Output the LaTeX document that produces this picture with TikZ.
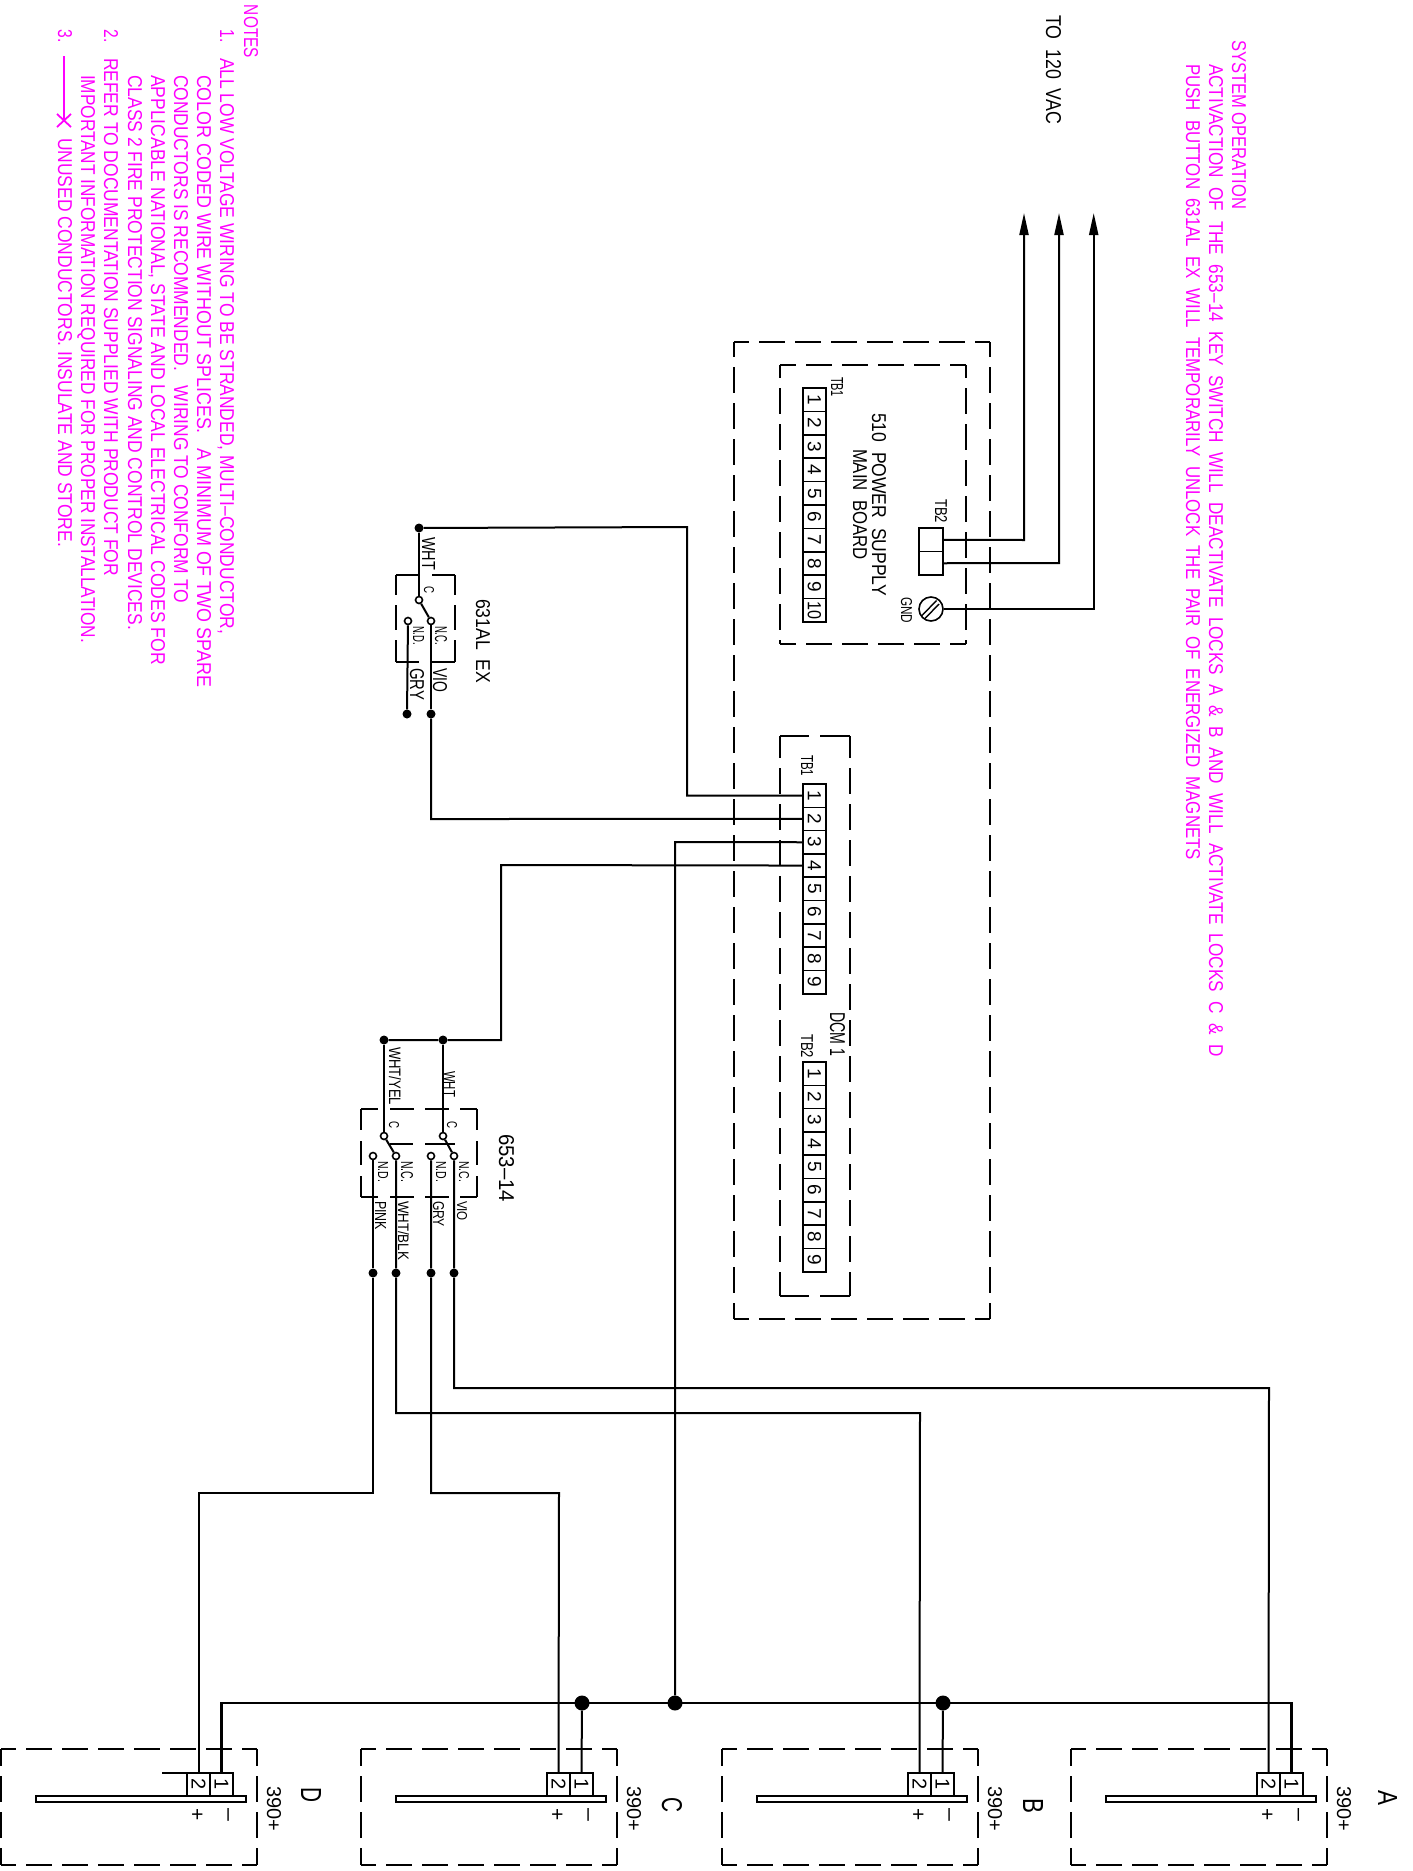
\documentclass[tikz,border=0pt]{standalone}
\usepackage{fontspec}
\usepackage{graphicx}
\setmainfont{Liberation Sans}
\usetikzlibrary{arrows.meta}
\definecolor{mag}{RGB}{255,0,255}
\tikzset{
  wire/.style={black,line width=2pt},
  bus/.style={black,line width=2.5pt},
  dashln/.style={black,line width=2pt},
  dotbig/.style={circle,fill=black,inner sep=0pt,minimum size=15pt},
  dotsmall/.style={circle,fill=black,inner sep=0pt,minimum size=9pt},
  opendot/.style={circle,draw=black,fill=white,line width=1.6pt,inner sep=0pt,minimum size=7pt},
  cell/.style={draw=black,line width=1.6pt,inner sep=0pt,minimum width=23.3pt,minimum height=23pt,rotate=-90,font=\fontsize{19}{19}\selectfont},
  lcell/.style={cell,minimum width=23pt,font=\fontsize{20}{20}\selectfont},
  textlab/.style={rotate=-90,inner sep=0pt,outer sep=0pt,anchor=base west},
  arrowwire/.style={wire,-{Triangle[length=22pt,width=9pt]}}
}
% colour, name, x base, x top, y start, y end, text
\newcommand{\lab}[7][black]{%
  \pgfmathsetlengthmacro\labw{(#6)-(#5)}%
  \pgfmathsetlengthmacro\labh{(#4)-(#3)}%
  \node[textlab,text=#1] (#2) at ({#3},{#5}) {\resizebox{\labw}{\labh}{#7}};%
}
\newcommand{\dbox}[6]{%
  \pgfmathsetlengthmacro\phH{25.7-(#5)}%
  \pgfmathsetlengthmacro\phV{25.7-(#6)}%
  \draw[dashln,dash pattern=on 25.7pt off 10.3pt,dash phase=\phH] ({#1},{#2}) -- ({#3},{#2});%
  \draw[dashln,dash pattern=on 25.7pt off 10.3pt,dash phase=\phH] ({#1},{#4}) -- ({#3},{#4});%
  \draw[dashln,dash pattern=on 25.7pt off 10.3pt,dash phase=\phV] ({#1},{#2}) -- ({#1},{#4});%
  \draw[dashln,dash pattern=on 25.7pt off 10.3pt,dash phase=\phV] ({#3},{#2}) -- ({#3},{#4});%
}
% name, offset, letter, letter base x, letter top x, letter y start, letter y end
\newcommand{\lockunit}[7]{%
  \dbox{#2}{1749}{#2+256}{1865}{15}{17}%
  \draw[black,line width=1.6pt] ({#2+35},1796) rectangle ({#2+245},1802);%
  \node[lcell] (#1-t2) at ({#2+197.5},1784.5) {2};%
  \node[lcell] (#1-t1) at ({#2+220.5},1784.5) {1};%
  \node[rotate=-90,inner sep=0pt,font=\fontsize{21}{21}\selectfont] (#1-plus) at ({#2+195.5},1815) {+};%
  \node[rotate=-90,inner sep=0pt,font=\fontsize{21}{21}\selectfont] (#1-minus) at ({#2+225},1815) {\scalebox{1.1}[1]{–}};%
  \lab{#1-model}{#2+266}{#2+280}{1786}{1831}{390+}%
  \lab{#1-letter}{#4}{#5}{#6}{#7}{#3}%
}
\begin{document}
\begin{tikzpicture}[x=1pt,y=-1pt]
\useasboundingbox (0,0) rectangle (1413,1871);
\fill[white] (0,0) rectangle (1413,1871);

% ---------- lock units
\lockunit{A}{1071}{A}{1378}{1397}{1790}{1805}
\lockunit{B}{722}{B}{1023}{1043}{1798}{1813}
\lockunit{C}{361}{C}{662}{682}{1797}{1812}
\lockunit{D}{1}{D}{301}{321}{1787}{1802}
\coordinate (Dstub) at (162,1773);
\coordinate (Dcorner) at (187,1773);
\draw[wire] (Dstub) -- (Dcorner);

% ---------- cabinet boxes
\dbox{734}{342}{990}{1319}{15}{15}
\dbox{780}{365}{966}{644}{16}{13}
% DCM box
\draw[dashln,dash pattern=on 25.7pt off 10.3pt,dash phase=3.7pt] (780,736) -- (780,1296);
\draw[dashln,dash pattern=on 25.7pt off 10.3pt,dash phase=3.7pt] (850,736) -- (850,1296);
\draw[dashln,dash pattern=on 29pt off 11pt on 40pt off 40pt] (780,736) -- (850,736);
\draw[dashln,dash pattern=on 29pt off 11pt on 40pt off 40pt] (780,1296) -- (850,1296);

% ---------- terminal blocks
\foreach \i in {1,...,10}{
  \node[cell] (ps\i) at (814.5,{388+23.4*(\i-0.5)}) {\ifnum\i=10 \scalebox{0.85}[1]{10}\else\i\fi};
}
\foreach \i in {1,...,9}{
  \node[cell] (dcma\i) at (814.5,{784+23.3*(\i-0.5)}) {\i};
  \node[cell] (dcmb\i) at (814.5,{1062+23.3*(\i-0.5)}) {\i};
}
\node[cell,minimum width=23.5pt,minimum height=24pt] (psb1) at (931,539.75) {};
\node[cell,minimum width=23.5pt,minimum height=24pt] (psb2) at (931,563.25) {};
\node[circle,draw=black,line width=1.6pt,inner sep=0pt,minimum size=24pt] (gnd) at (931,609) {};
\draw[black,line width=1.4pt] (924.5,619) -- (939,604);
\draw[black,line width=1.4pt] (922,615.5) -- (936.5,600.5);

\coordinate (arr1) at (1024,213);
\coordinate (arr2) at (1059,213);
\coordinate (arr3) at (1093.7,213);
\coordinate (arr1c) at (1024,540);
\coordinate (arr2c) at (1059,563);
\coordinate (arr3c) at (1093.7,609);
\draw[arrowwire] (psb1.north) -- (arr1c) -- (arr1);
\draw[arrowwire] (psb2.north) -- (arr2c) -- (arr2);
\draw[arrowwire] (gnd.east) -- (arr3c) -- (arr3);

% ---------- junctions
\node[dotsmall] (j631c) at (419,528) {};
\node[dotsmall] (j631nc) at (431,714) {};
\node[dotsmall] (j631no) at (407,714) {};
\node[dotsmall] (j653a) at (443,1040) {};
\node[dotsmall] (j653b) at (384,1040) {};
\node[dotsmall] (jvio) at (454,1273) {};
\node[dotsmall] (jgry) at (431,1273) {};
\node[dotsmall] (jblk) at (396,1273) {};
\node[dotsmall] (jpnk) at (373,1273) {};
\node[dotbig] (jc) at (582,1703) {};
\node[dotbig] (jm) at (675,1703) {};
\node[dotbig] (jb) at (943,1703) {};

% ---------- 631AL EX switch
\node[opendot] (s1c) at (419,600) {};
\node[opendot] (s1nc) at (431,621) {};
\node[opendot] (s1no) at (408,621) {};
\draw[wire] (j631c) -- (s1c);
\draw[wire] (s1c) -- (s1nc);
\draw[wire] (s1nc) -- (j631nc);
\draw[wire] (s1no) -- (j631no);
\draw[dashln,dash pattern=on 23pt off 13pt on 40pt off 40pt] (396,575) -- (455,575);
\draw[dashln,dash pattern=on 23pt off 13pt on 40pt off 40pt] (396,662) -- (455,662);
\draw[dashln,dash pattern=on 20pt off 10pt on 25pt off 10pt on 40pt off 40pt] (396,575) -- (396,662);
\draw[dashln,dash pattern=on 20pt off 10pt on 25pt off 10pt on 40pt off 40pt] (455,575) -- (455,662);

% ---------- 653-14 switch
\node[opendot] (s2c) at (443,1136) {};
\node[opendot] (s2nc) at (454,1156) {};
\node[opendot] (s2no) at (431,1156) {};
\node[opendot] (s3c) at (384,1136) {};
\node[opendot] (s3nc) at (396,1156) {};
\node[opendot] (s3no) at (373,1156) {};
\draw[wire] (j653a) -- (s2c);
\draw[wire] (j653b) -- (s3c);
\draw[wire] (s2c) -- (s2nc);
\draw[wire] (s3c) -- (s3nc);
\draw[dashln,dash pattern=on 17pt off 12pt on 24pt off 11pt on 24pt off 11pt on 40pt off 40pt] (361,1109) -- (477,1109);
\draw[dashln,dash pattern=on 17pt off 12pt on 24pt off 11pt on 24pt off 11pt on 40pt off 40pt] (361,1197) -- (477,1197);
\draw[dashln,dash pattern=on 21pt off 11pt on 24pt off 11pt on 40pt off 40pt] (361,1109) -- (361,1197);
\draw[dashln,dash pattern=on 21pt off 11pt on 24pt off 11pt on 40pt off 40pt] (477,1109) -- (477,1197);
\draw[dashln] (390,1144) -- (413,1144);
\draw[dashln] (425,1144) -- (455,1144);

% ---------- wiring
\coordinate (w1a) at (687,527);
\coordinate (w2a) at (431,819);
\coordinate (w3a) at (675,842);
\coordinate (w4a) at (501,865);
\coordinate (w4b) at (501,1040);
\coordinate (viob) at (454,1388);
\coordinate (vioc) at (1269,1388);
\coordinate (blkb) at (396,1413);
\coordinate (blkc) at (920,1413);
\coordinate (gryb) at (431,1493);
\coordinate (gryc) at (559,1493);
\coordinate (pnkb) at (373,1493);
\coordinate (pnkc) at (198.5,1493);
\coordinate (busl) at (221.5,1703);
\coordinate (busr) at (1291.5,1703);
\draw[wire] (dcma1.south) -| (w1a) -- (j631c);
\draw[wire] (dcma2.south) -- (w2a) -- (j631nc);
\draw[wire] (dcma3.south) -- (w3a) -- (jm);
\draw[wire] (dcma4.south) -- (w4a) -- (w4b) -- (j653a) -- (j653b);
\draw[wire] (s2nc) -- (jvio) -- (viob) -- (vioc) -- (A-t2.west);
\draw[wire] (s3nc) -- (jblk) -- (blkb) -- (blkc) -- (B-t2.west);
\draw[wire] (s2no) -- (jgry) -- (gryb) -- (gryc) -- (C-t2.west);
\draw[wire] (s3no) -- (jpnk) -- (pnkb) -- (pnkc) -- (D-t2.west);
\draw[bus] (D-t1.west) -- (busl) -- (busr) -- (A-t1.west);
\draw[wire] (jc) -- (C-t1.west);
\draw[wire] (jb) -- (B-t1.west);

% ---------- black labels
\lab{toac}{1046}{1061}{15}{124}{TO\ \ 120\ \ VAC}
\lab{psa}{872}{886}{413}{596}{510\ \ POWER\ \ SUPPLY}
\lab{psb}{853}{867}{449}{560}{MAIN\ \ BOARD}
\lab{pstb1}{831}{843}{377}{397}{TB1}
\lab{pstb2}{935}{947}{499}{523}{TB2}
\lab{gndl}{901}{912}{597}{623}{GND}
\lab{dcmt1}{801}{813}{755}{776}{TB1}
\lab{dcmt2}{801}{813}{1034}{1058}{TB2}
\lab{dcmn}{830}{845}{1012}{1056}{DCM 1}
\lab{sa1}{422}{435}{537}{570}{WHT}
\lab{sa2}{424}{434}{586}{593}{C}
\lab{sa3}{435}{447}{626}{645}{N.C.}
\lab{sa4}{413}{424}{626}{645}{N.D.}
\lab{sa5}{410}{424}{668}{700}{GRY}
\lab{sa6}{433}{447}{668}{692}{VIO}
\lab{sa7}{476}{490}{599}{683}{631AL\ \ EX}
\lab{sb1}{389}{401}{1047}{1105}{WHT/YEL}
\lab{sb2}{444}{455}{1071}{1097}{WHT}
\lab{sb3}{389}{399}{1121}{1128}{C}
\lab{sb4}{447}{457}{1121}{1128}{C}
\lab{sb5}{459}{469}{1161}{1182}{N.C.}
\lab{sb6}{436}{446}{1161}{1182}{N.D.}
\lab{sb7}{401}{413}{1161}{1182}{N.C.}
\lab{sb8}{378}{388}{1161}{1182}{N.D.}
\lab{sb9}{457}{467}{1201}{1221}{VIO}
\lab{sb10}{433}{444}{1201}{1227}{GRY}
\lab{sb11}{398}{409}{1201}{1260}{WHT/BLK}
\lab{sb12}{375}{386}{1201}{1230}{PINK}
\lab{sb13}{499}{514}{1134}{1202}{653--14}

% ---------- magenta notes
\lab[mag]{n0}{244}{258}{5}{58}{NOTES}
\lab[mag]{n1a}{220}{234}{30}{43}{1.}
\lab[mag]{n1b}{220}{234}{58}{634}{ALL\ LOW\ VOLTAGE\ WIRING\ TO\ BE\ STRANDED,\ MULTI--CONDUCTOR,}
\lab[mag]{n1c}{197}{211}{75}{687}{COLOR\ CODED\ WIRE\ WITHOUT\ SPLICES.\ \ \ A\ MINIMUM\ OF\ TWO\ SPARE}
\lab[mag]{n1d}{174}{188}{75}{603}{CONDUCTORS\ IS\ RECOMMENDED.\ \ \ WIRING\ TO\ CONFORM\ TO}
\lab[mag]{n1e}{151}{165}{75}{665}{APPLICABLE\ NATIONAL,\ STATE\ AND\ LOCAL\ ELECTRICAL\ CODES\ FOR}
\lab[mag]{n1f}{128}{142}{75}{630}{CLASS\ 2\ FIRE\ PROTECTION\ SIGNALING\ AND\ CONTROL\ DEVICES.}
\lab[mag]{n2a}{104}{118}{30}{43}{2.}
\lab[mag]{n2b}{104}{118}{58}{576}{REFER\ TO\ DOCUMENTATION\ SUPPLIED\ WITH\ PRODUCT\ FOR}
\lab[mag]{n2c}{81}{95}{75}{643}{IMPORTANT\ INFORMATION\ REQUIRED\ FOR\ PROPER\ INSTALLATION.}
\lab[mag]{n3a}{58}{72}{30}{43}{3.}
\lab[mag]{n3b}{58}{72}{138}{547}{UNUSED\ CONDUCTORS.\ INSULATE\ AND\ STORE.}
\coordinate (n3s) at (64,56);
\coordinate (n3e) at (64,120);
\coordinate (n3x1) at (57,114);
\coordinate (n3x2) at (71,127);
\coordinate (n3x3) at (71,114);
\coordinate (n3x4) at (57,127);
\draw[mag,line width=1.8pt] (n3s) -- (n3e);
\draw[mag,line width=1.8pt] (n3x1) -- (n3x2);
\draw[mag,line width=1.8pt] (n3x3) -- (n3x4);

\lab[mag]{so0}{1232}{1246}{40}{209}{SYSTEM\ OPERATION}
\lab[mag]{so1}{1209}{1223}{64}{1057}{ACTIVACTION\ \ OF\ \ THE\ \ 653--14\ \ KEY\ \ SWITCH\ \ WILL\ \ DEACTIVATE\ \ LOCKS\ \ A\ \ \&\ \ B\ \ AND\ \ WILL\ \ ACTIVATE\ \ LOCKS\ \ C\ \ \&\ \ D}
\lab[mag]{so2}{1186}{1200}{64}{860}{PUSH\ \ BUTTON\ \ 631AL\ \ EX\ \ WILL\ \ TEMPORARILY\ \ UNLOCK\ \ THE\ \ PAIR\ \ OF\ \ ENERGIZED\ \ MAGNETS}
\end{tikzpicture}
\end{document}
